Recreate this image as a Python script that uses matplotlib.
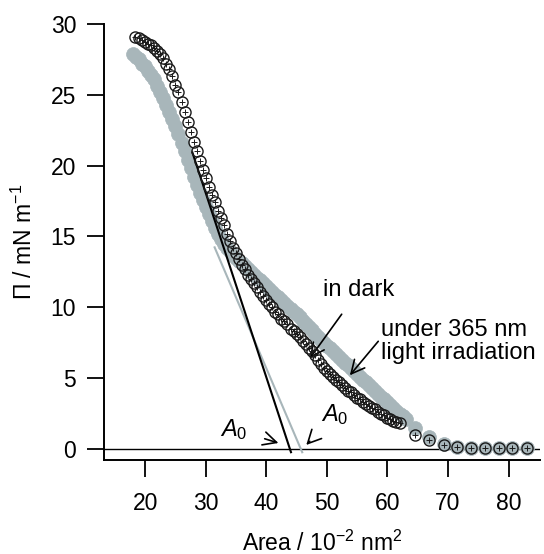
import numpy as np
import matplotlib
matplotlib.use('Agg')
import matplotlib.pyplot as plt

plt.rcParams['font.family'] = ['Liberation Sans', 'DejaVu Sans']
plt.rcParams['mathtext.fontset'] = 'custom'
plt.rcParams['mathtext.rm'] = 'Liberation Sans'
plt.rcParams['mathtext.it'] = 'Liberation Sans:italic'

# isotherm in dark (open circles)
dark_area = [18.3, 19.0, 19.5, 20.0, 20.5, 21.0, 21.5, 22.0, 22.5, 23.0, 23.5, 24.0, 24.5,
             25.0, 25.5, 26.0, 26.5, 27.0, 27.5, 28.0, 28.5, 29.0, 29.5, 30.0, 30.5, 31.0,
             31.5, 32.0, 32.5, 33.0, 33.5, 34.0, 34.5, 35.0, 35.5, 36.0, 36.5, 37.0, 37.5,
             38.0, 38.5, 39.0, 39.5, 40.0, 40.5, 41.0, 41.5, 42.0, 42.5, 43.0, 43.5, 44.0,
             44.5, 45.0, 45.5, 46.0, 46.5, 47.0, 47.5, 48.0, 48.5, 49.0, 49.5, 50.0, 50.5,
             51.0, 51.5, 52.0, 52.5, 53.0, 53.5, 54.0, 54.5, 55.0, 55.5, 56.0, 56.5, 57.0,
             57.5, 58.0, 58.5, 59.0, 59.5, 60.0, 60.5, 61.0, 61.5, 62.0,
             64.6, 66.9, 69.3, 71.5, 73.8, 76.1, 78.4, 80.6, 83.0]
dark_pi = [29.1, 29.0, 28.9, 28.7, 28.6, 28.5, 28.3, 28.1, 27.9, 27.6, 27.2, 26.8, 26.3,
           25.7, 25.2, 24.5, 23.8, 23.1, 22.4, 21.7, 21.0, 20.3, 19.7, 19.1, 18.5, 17.9,
           17.4, 16.8, 16.3, 15.8, 15.2, 14.7, 14.2, 13.8, 13.4, 13.0, 12.7, 12.3, 12.0,
           11.7, 11.4, 11.1, 10.8, 10.5, 10.2, 10.0, 9.7, 9.5, 9.2, 9.0, 8.8, 8.5,
           8.3, 8.1, 7.9, 7.6, 7.4, 7.1, 6.9, 6.6, 6.3, 6.0, 5.7, 5.5, 5.3,
           5.1, 4.9, 4.7, 4.5, 4.3, 4.1, 4.0, 3.8, 3.6, 3.5, 3.3, 3.2, 3.0,
           2.9, 2.8, 2.6, 2.5, 2.4, 2.2, 2.1, 2.0, 1.9, 1.8,
           1.0, 0.6, 0.3, 0.15, 0.1, 0.05, 0.05, 0.05, 0.05]

# isotherm under 365 nm light (grey filled)
uv_area = [18.0, 18.5, 19.0, 19.5, 20.0, 20.5, 21.0, 21.5, 22.0, 22.5, 23.0, 23.5, 24.0,
           24.5, 25.0, 25.5, 26.0, 26.5, 27.0, 27.5, 28.0, 28.5, 29.0, 29.5, 30.0, 30.5,
           31.0, 31.5, 32.0, 32.5, 33.0, 33.5, 34.0, 34.5, 35.0, 35.5, 36.0, 36.5, 37.0,
           37.5, 38.0, 38.5, 39.0, 39.5, 40.0, 40.5, 41.0, 41.5, 42.0, 42.5, 43.0, 43.5,
           44.0, 44.5, 45.0, 45.5, 46.0, 46.5, 47.0, 47.5, 48.0, 48.5, 49.0, 49.5, 50.0,
           50.5, 51.0, 51.5, 52.0, 52.5, 53.0, 53.5, 54.0, 54.5, 55.0, 55.5, 56.0, 56.5,
           57.0, 57.5, 58.0, 58.5, 59.0, 59.5, 60.0, 60.5, 61.0, 61.5, 62.0, 62.5, 63.0,
           64.6, 66.9, 69.3, 71.5, 73.8, 76.1, 78.4, 80.6, 83.0]
uv_pi = [27.9, 27.7, 27.5, 27.2, 27.0, 26.7, 26.4, 26.1, 25.6, 25.2, 24.8, 24.3, 23.8,
         23.3, 22.8, 22.2, 21.6, 21.0, 20.4, 19.8, 19.2, 18.6, 18.1, 17.6, 17.1, 16.6,
         16.1, 15.6, 15.2, 14.8, 14.5, 14.2, 14.0, 13.7, 13.5, 13.3, 13.1, 12.9, 12.7,
         12.5, 12.3, 12.1, 11.9, 11.7, 11.5, 11.3, 11.1, 10.9, 10.7, 10.5, 10.3, 10.1,
         9.9, 9.7, 9.5, 9.3, 9.0, 8.8, 8.6, 8.4, 8.1, 7.9, 7.7, 7.5, 7.3,
         7.1, 6.9, 6.7, 6.5, 6.3, 6.1, 5.9, 5.7, 5.5, 5.3, 5.1, 4.9, 4.7,
         4.5, 4.3, 4.1, 3.9, 3.7, 3.5, 3.3, 3.1, 2.9, 2.7, 2.5, 2.3, 2.1,
         1.5, 0.85, 0.35, 0.15, 0.1, 0.05, 0.05, 0.05, 0.05]

# linear extrapolation to A0: [dark, uv]
a0 = [43.9, 45.7]
fit_slope = [-1.3, -1.0]
fit_top = [21.0, 14.3]
fit_bottom = -0.3

grey = '#a8b6ba'

fig = plt.figure(figsize=(5.44, 5.54), dpi=100)
ax = fig.add_axes([104 / 544, 94 / 554, 436 / 544, 436 / 554])

ax.axhline(0, color='black', lw=1.0, zorder=1)

ax.plot(uv_area, uv_pi, 'o', ms=10, mfc=grey, mec=grey, mew=0.5, zorder=2)
ax.plot(dark_area, dark_pi, 'o', ms=8, mfc='none', mec='#1a1a1a', mew=1.0, zorder=4)
ax.plot(dark_area, dark_pi, '+', ms=5, mec='#1a1a1a', mew=0.7, zorder=4)

for a, s, top, c in zip(a0, fit_slope, fit_top, ['black', grey]):
    ys = np.array([top, fit_bottom])
    ax.plot(a + ys / s, ys, color=c, lw=1.5, zorder=3 if c == 'black' else 2.5,
            solid_capstyle='butt')

arr = dict(arrowstyle='->', color='black', lw=1.2, mutation_scale=24)
ax.annotate('in dark', xy=(47.2, 6.4), xytext=(55.3, 11.2), fontsize=17,
            ha='center', va='center', arrowprops=dict(arr, shrinkA=9, shrinkB=0))
ax.annotate('under 365 nm\nlight irradiation', xy=(53.8, 5.2), xytext=(59.0, 7.6),
            fontsize=17, ha='left', va='center', linespacing=1.05,
            arrowprops=dict(arr, shrinkA=0, shrinkB=0, relpos=(-0.02, 0.5)))
ax.annotate('$A_0$', xy=(42.0, 0.42), xytext=(34.6, 1.4), fontsize=17,
            ha='center', va='center', arrowprops=dict(arr, shrinkA=11, shrinkB=0))
ax.annotate('$A_0$', xy=(46.6, 0.28), xytext=(51.3, 2.4), fontsize=17,
            ha='center', va='center', arrowprops=dict(arr, shrinkA=11, shrinkB=0))

ax.set_xlim(13.2, 85.2)
ax.set_ylim(-0.78, 30)
ax.set_xticks([20, 30, 40, 50, 60, 70, 80])
ax.set_yticks([0, 5, 10, 15, 20, 25, 30])
for side in ['top', 'right']:
    ax.spines[side].set_visible(False)
for side in ['left', 'bottom']:
    ax.spines[side].set_linewidth(1.4)
ax.tick_params(axis='y', direction='out', length=12, width=1.3, labelsize=16.5, pad=8)
ax.tick_params(axis='x', direction='out', length=12, width=1.3, labelsize=16.5, pad=11)

ax.set_xlabel('Area / 10$^{-2}$ nm$^{2}$', fontsize=16.5, labelpad=11)
ax.set_ylabel('Π / mN m$^{-1}$', fontsize=16.5, labelpad=10)

fig.savefig('out.png', dpi=100)
